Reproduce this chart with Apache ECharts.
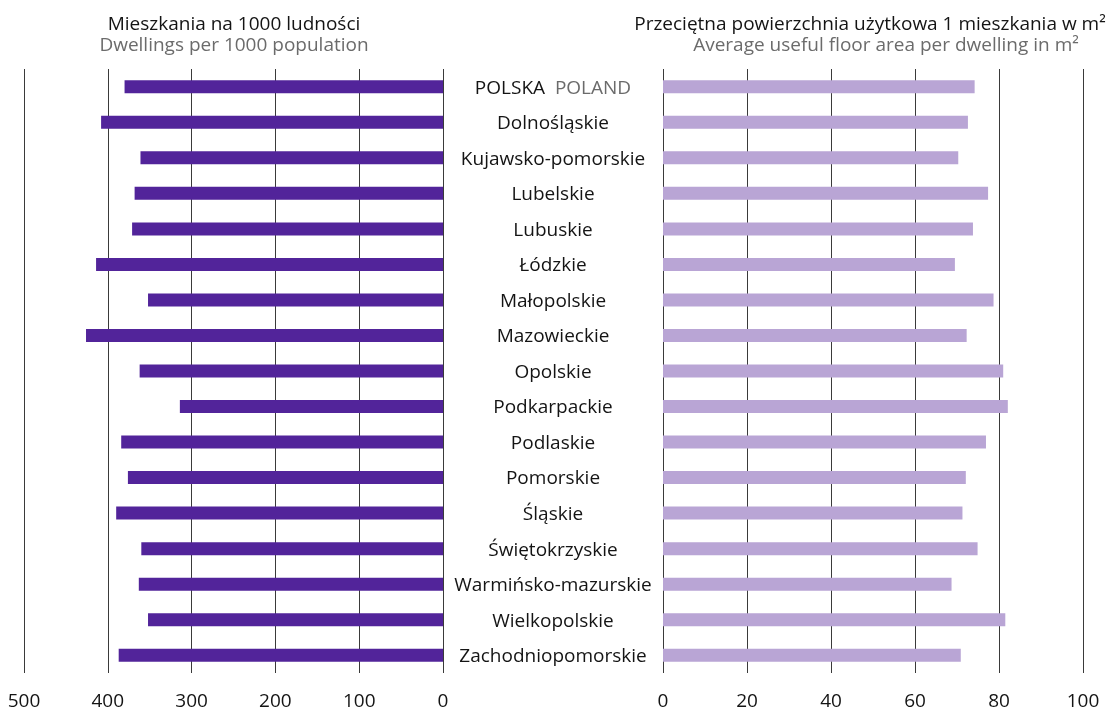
<!DOCTYPE html>
<html>
<head>
<meta charset="utf-8">
<script src="https://cdn.jsdelivr.net/npm/echarts@6/dist/echarts.min.js"></script>
<style>
  html, body { margin: 0; padding: 0; background: #fff; }
  #chart { width: 1111px; height: 711px; }
</style>
</head>
<body>
<div id="chart"></div>
<script>
// regiony (województwa)
const regions = [
  'POLSKA', 'Dolnośląskie', 'Kujawsko-pomorskie', 'Lubelskie', 'Lubuskie',
  'Łódzkie', 'Małopolskie', 'Mazowieckie', 'Opolskie', 'Podkarpackie',
  'Podlaskie', 'Pomorskie', 'Śląskie', 'Świętokrzyskie',
  'Warmińsko-mazurskie', 'Wielkopolskie', 'Zachodniopomorskie'
];

// mieszkania na 1000 ludności
const dwellingsPer1000 = [380, 408, 361, 368, 371, 414, 352, 426, 362, 314, 384, 376, 390, 360, 363, 352, 387];

// przeciętna powierzchnia użytkowa 1 mieszkania w m2
const avgFloorArea = [74.2, 72.6, 70.3, 77.4, 73.8, 69.5, 78.7, 72.3, 81.0, 82.1, 76.9, 72.1, 71.3, 74.9, 68.7, 81.5, 70.9];

const leftTitle = ['Mieszkania na 1000 ludności', 'Dwellings per 1000 population'];
const rightTitle = ['Przeciętna powierzchnia użytkowa 1 mieszkania w m²', 'Average useful floor area per dwelling in m²'];

const FONT = '"Open Sans", sans-serif';
const gridColor = '#3a3a3a';

const chart = echarts.init(document.getElementById('chart'));

const valueAxisCommon = {
  type: 'value',
  axisLine: { show: false },
  axisTick: { show: false },
  axisLabel: { fontFamily: FONT, fontSize: 19, color: '#141414', margin: 19 },
  splitLine: { show: true, lineStyle: { color: gridColor, width: 1 } }
};

const option = {
  animation: false,
  grid: [
    { left: 24, right: 668, top: 69, bottom: 37 },   // lewy panel
    { left: 663, right: 28, top: 69, bottom: 37 }    // prawy panel
  ],
  xAxis: [
    Object.assign({}, valueAxisCommon, { gridIndex: 0, min: 0, max: 500, interval: 100, inverse: true }),
    Object.assign({}, valueAxisCommon, { gridIndex: 1, min: 0, max: 100, interval: 20 })
  ],
  yAxis: [
    {
      type: 'category', gridIndex: 0, data: regions, inverse: true, position: 'right',
      axisLine: { show: false }, axisTick: { show: false },
      axisLabel: {
        align: 'center', margin: 110, fontFamily: FONT, fontSize: 19, color: '#141414',
        padding: [3, 0, 0, 0],
        formatter: v => v === 'POLSKA' ? '{pl|POLSKA}  {en|POLAND}' : v,
        rich: {
          pl: { fontFamily: FONT, fontSize: 19, color: '#141414' },
          en: { fontFamily: FONT, fontSize: 19, color: '#6b6b6b' }
        }
      }
    },
    {
      type: 'category', gridIndex: 1, data: regions, inverse: true,
      axisLine: { show: false }, axisTick: { show: false }, axisLabel: { show: false }
    }
  ],
  series: [
    {
      type: 'bar', xAxisIndex: 0, yAxisIndex: 0, data: dwellingsPer1000,
      barWidth: 13, itemStyle: { color: '#52249a' }
    },
    {
      type: 'bar', xAxisIndex: 1, yAxisIndex: 1, data: avgFloorArea,
      barWidth: 13, itemStyle: { color: '#b9a5d5' }
    }
  ],
  graphic: [
    { type: 'text', x: 234, y: 25, style: { text: leftTitle[0], font: '19px ' + FONT, fill: '#141414', align: 'center', verticalAlign: 'middle' } },
    { type: 'text', x: 234, y: 46, style: { text: leftTitle[1], font: '19px ' + FONT, fill: '#6b6b6b', align: 'center', verticalAlign: 'middle' } },
    { type: 'text', x: 870, y: 25, style: { text: rightTitle[0], font: '19px ' + FONT, fill: '#141414', align: 'center', verticalAlign: 'middle' } },
    { type: 'text', x: 886, y: 46, style: { text: rightTitle[1], font: '19px ' + FONT, fill: '#6b6b6b', align: 'center', verticalAlign: 'middle' } }
  ]
};

chart.setOption(option);
</script>
</body>
</html>
